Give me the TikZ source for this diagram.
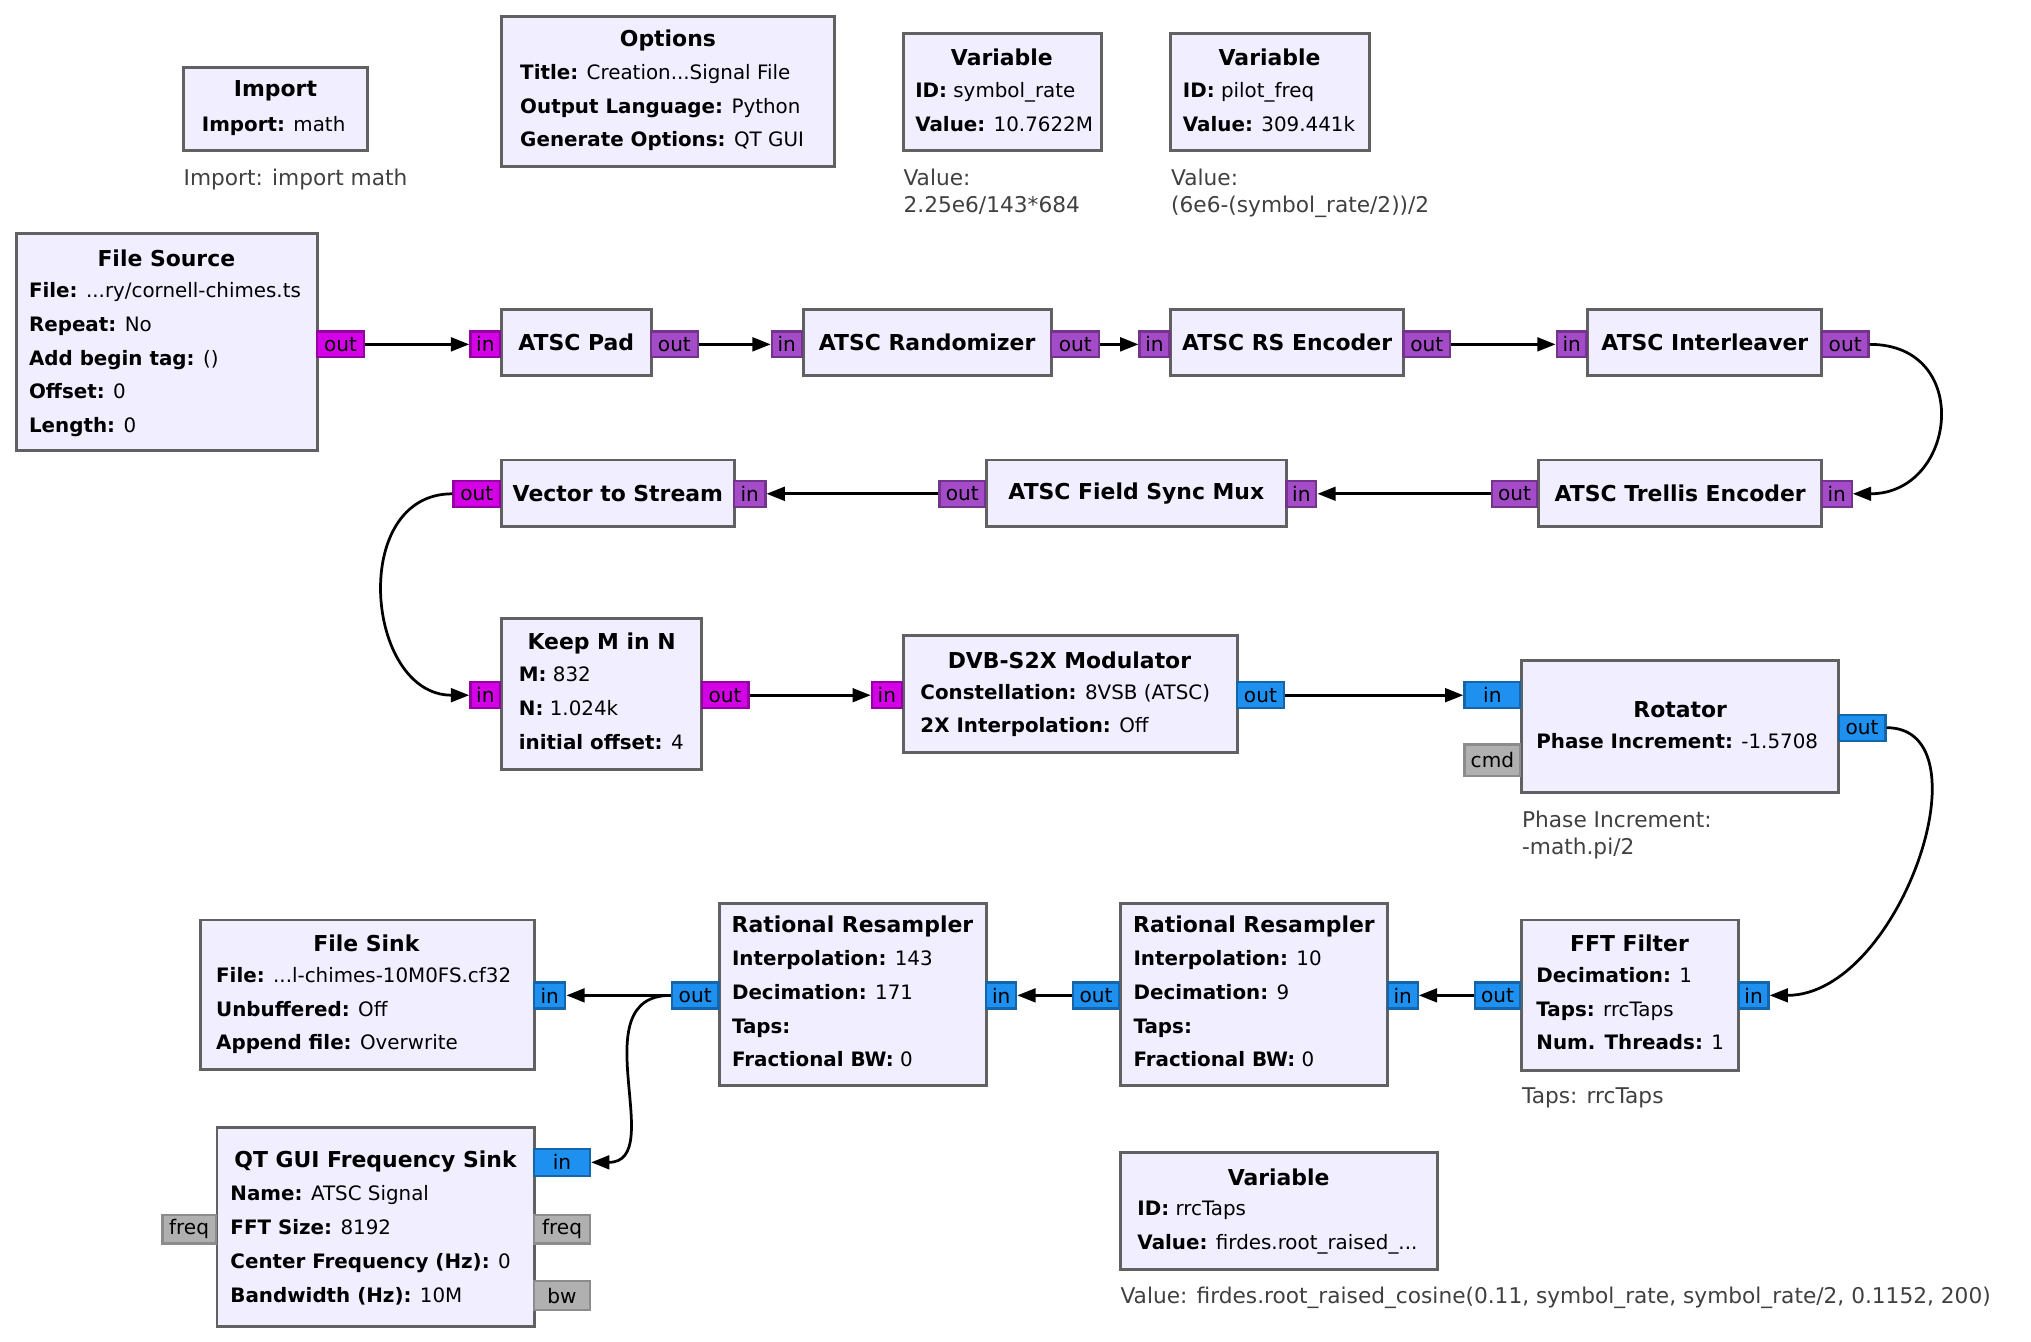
\documentclass[tikz,border=0pt]{standalone}
\usepackage{fontspec}
\setmainfont{DejaVu Sans}
\usetikzlibrary{fit,arrows.meta}

\definecolor{boxfill}{HTML}{F0EEFF}
\definecolor{bytec}{HTML}{D400E6}
\definecolor{purpc}{HTML}{A44CC8}
\definecolor{cplxc}{HTML}{1E90F0}
\definecolor{msgc}{HTML}{B0B0B0}

\tikzset{
    blk/.style={draw=black!62, fill=boxfill, line width=1.3pt, inner sep=0pt},
    ttl/.style={font=\fontsize{9.6}{11}\selectfont\bfseries, inner sep=0pt},
    prm/.style={align=left, inner sep=0pt, anchor=north west, font=\fontsize{8.7}{14.8}\selectfont},
    port/.style={line width=1pt, inner sep=0pt, font=\fontsize{8.8}{10}\selectfont},
    pbyte/.style={port, fill=bytec, draw=bytec!70!black},
    ppurp/.style={port, fill=purpc, draw=purpc!70!black},
    pcplx/.style={port, fill=cplxc, draw=cplxc!70!black},
    pmsg/.style={port, fill=msgc, draw=black!45},
    note/.style={align=left, inner sep=0pt, anchor=north west, text=black!75, font=\fontsize{9.5}{11.6}\selectfont},
    wire/.style={line width=1.2pt, -{Triangle[length=8pt,width=6pt]}}
}

% block: name, x1, y1, x2, y2
\newcommand\blk[5]{\node[blk, fit={(#2,#3) (#4,#5)}] (#1) {};}
% port: name, style, x1, y1, x2, y2, text
\newcommand\prt[7]{\node[#2, fit={(#3,#4) (#5,#6)}] (#1) {}; \node[port] at (#1.center) {#7};}

\begin{document}
\begin{tikzpicture}[x=0.02cm, y=-0.02cm]
\useasboundingbox (0,0) rectangle (1563,1032);

%% Top row: settings blocks
\blk{imp}{141}{52}{283}{116}
\node[ttl] at (212,70) {Import};
\node[prm] at (155,89) {\textbf{Import:} math};
\node[note] at (141,130) {Import: import math};

\blk{opt}{386}{13}{642}{128}
\node[ttl] at (514,31) {Options};
\node[prm] at (400,49) {\textbf{Title:} Creation...Signal File\\\textbf{Output Language:} Python\\\textbf{Generate Options:} QT GUI};

\blk{vsr}{695}{26}{848}{116}
\node[ttl] at (771,44) {Variable};
\node[prm] at (704,63) {\textbf{ID:} symbol\_rate\\\textbf{Value:} 10.7622M};
\node[note] at (695,130) {Value:\\2.25e6/143*684};

\blk{vpf}{901}{26}{1054}{116}
\node[ttl] at (977,44) {Variable};
\node[prm] at (910,63) {\textbf{ID:} pilot\_freq\\\textbf{Value:} 309.441k};
\node[note] at (901,130) {Value:\\(6e6-(symbol\_rate/2))/2};

%% Row 1
\blk{fsrc}{13}{180}{244}{347}
\node[ttl] at (128,199) {File Source};
\node[prm] at (22,217) {\textbf{File:} ...ry/cornell-chimes.ts\\\textbf{Repeat:} No\\\textbf{Add begin tag:} ()\\\textbf{Offset:} 0\\\textbf{Length:} 0};
\prt{fsrcout}{pbyte}{244}{255}{280}{275}{out}

\blk{pad}{386}{238}{501}{289}
\node[ttl] at (pad.center) {ATSC Pad};
\prt{padin}{pbyte}{362}{255}{385}{275}{in}
\prt{padout}{ppurp}{501}{255}{537}{275}{out}

\blk{rnd}{618}{238}{809}{289}
\node[ttl] at (rnd.center) {ATSC Randomizer};
\prt{rndin}{ppurp}{594}{255}{617}{275}{in}
\prt{rndout}{ppurp}{809}{255}{846}{275}{out}

\blk{rse}{901}{238}{1080}{289}
\node[ttl] at (rse.center) {ATSC RS Encoder};
\prt{rsein}{ppurp}{877}{255}{900}{275}{in}
\prt{rseout}{ppurp}{1080}{255}{1116}{275}{out}

\blk{ilv}{1222}{238}{1402}{289}
\node[ttl] at (ilv.center) {ATSC Interleaver};
\prt{ilvin}{ppurp}{1198}{255}{1221}{275}{in}
\prt{ilvout}{ppurp}{1402}{255}{1438}{275}{out}

%% Row 2
\blk{trl}{1184}{354}{1402}{405}
\node[ttl] at (trl.center) {ATSC Trellis Encoder};
\prt{trlin}{ppurp}{1402}{370}{1425}{390}{in}
\prt{trlout}{ppurp}{1148}{370}{1183}{390}{out}

\blk{fsm}{759}{354}{990}{405}
\node[ttl] at (fsm.center) {ATSC Field Sync Mux};
\prt{fsmin}{ppurp}{990}{370}{1013}{390}{in}
\prt{fsmout}{ppurp}{723}{370}{758}{390}{out}

\blk{vts}{386}{354}{565}{405}
\node[ttl] at (vts.center) {Vector to Stream};
\prt{vtsin}{ppurp}{565}{370}{589}{390}{in}
\prt{vtsout}{pbyte}{349}{370}{385}{390}{out}

%% Row 3
\blk{kmn}{386}{476}{540}{592}
\node[ttl] at (463,495) {Keep M in N};
\node[prm] at (399,513) {\textbf{M:} 832\\\textbf{N:} 1.024k\\\textbf{initial offset:} 4};
\prt{kmnin}{pbyte}{362}{525}{385}{545}{in}
\prt{kmnout}{pbyte}{540}{525}{576}{545}{out}

\blk{dvb}{695}{489}{952}{579}
\node[ttl] at (823,508) {DVB-S2X Modulator};
\node[prm] at (708,526) {\textbf{Constellation:} 8VSB (ATSC)\\\textbf{2X Interpolation:} Off};
\prt{dvbin}{pbyte}{671}{525}{694}{545}{in}
\prt{dvbout}{pcplx}{952}{525}{988}{545}{out}

\blk{rot}{1171}{508}{1415}{610}
\node[ttl] at (1293,546) {Rotator};
\node[prm] at (1182,564) {\textbf{Phase Increment:} -1.5708};
\prt{rotin}{pcplx}{1127}{525}{1170}{545}{in}
\prt{rotcmd}{pmsg}{1127}{573}{1170}{597}{cmd}
\prt{rotout}{pcplx}{1415}{550}{1451}{570}{out}
\node[note] at (1171,624) {Phase Increment:\\-math.pi/2};

%% Row 4
\blk{fft}{1171}{708}{1338}{824}
\node[ttl] at (1254,726) {FFT Filter};
\node[prm] at (1182,744) {\textbf{Decimation:} 1\\\textbf{Taps:} rrcTaps\\\textbf{Num. Threads:} 1};
\prt{fftin}{pcplx}{1338}{756}{1361}{776}{in}
\prt{fftout}{pcplx}{1135}{756}{1170}{776}{out}
\node[note] at (1171,837) {Taps: rrcTaps};

\blk{rsb}{862}{695}{1068}{835}
\node[ttl] at (965,713) {Rational Resampler};
\node[prm] at (872,731) {\textbf{Interpolation:} 10\\\textbf{Decimation:} 9\\\textbf{Taps:}\\\textbf{Fractional BW:} 0};
\prt{rsbin}{pcplx}{1068}{756}{1091}{776}{in}
\prt{rsbout}{pcplx}{826}{756}{861}{776}{out}

\blk{rsa}{554}{695}{759}{835}
\node[ttl] at (656,713) {Rational Resampler};
\node[prm] at (563,731) {\textbf{Interpolation:} 143\\\textbf{Decimation:} 171\\\textbf{Taps:}\\\textbf{Fractional BW:} 0};
\prt{rsain}{pcplx}{759}{756}{782}{776}{in}
\prt{rsaout}{pcplx}{517}{756}{553}{776}{out}

\blk{fsnk}{154}{708}{411}{823}
\node[ttl] at (282,726) {File Sink};
\node[prm] at (166,744) {\textbf{File:} ...l-chimes-10M0FS.cf32\\\textbf{Unbuffered:} Off\\\textbf{Append file:} Overwrite};
\prt{fsnkin}{pcplx}{411}{756}{435}{776}{in}

%% Bottom
\blk{qtf}{167}{868}{411}{1021}
\node[ttl] at (289,894) {QT GUI Frequency Sink};
\node[prm] at (177,912) {\textbf{Name:} ATSC Signal\\\textbf{FFT Size:} 8192\\\textbf{Center Frequency (Hz):} 0\\\textbf{Bandwidth (Hz):} 10M};
\prt{qtfin}{pcplx}{411}{884}{454}{905}{in}
\prt{qtffl}{pmsg}{125}{935}{166}{957}{freq}
\prt{qtffr}{pmsg}{411}{935}{454}{957}{freq}
\prt{qtfbw}{pmsg}{411}{986}{454}{1008}{bw}

\blk{vrt}{862}{887}{1106}{977}
\node[ttl] at (984,906) {Variable};
\node[prm] at (875,924) {\textbf{ID:} rrcTaps\\\textbf{Value:} firdes.root\_raised\_...};
\node[note] at (862,990) {Value: firdes.root\_raised\_cosine(0.11, symbol\_rate, symbol\_rate/2, 0.1152, 200)};

%% Connections
\draw[wire] (fsrcout.east) -- (padin.west);
\draw[wire] (padout.east) -- (rndin.west);
\draw[wire] (rndout.east) -- (rsein.west);
\draw[wire] (rseout.east) -- (ilvin.west);
\draw[wire] (ilvout.east) .. controls +(80,0) and +(80,0) .. (trlin.east);
\draw[wire] (trlout.west) -- (fsmin.east);
\draw[wire] (fsmout.west) -- (vtsin.east);
\draw[wire] (vtsout.west) .. controls +(-80,0) and +(-80,0) .. (kmnin.west);
\draw[wire] (kmnout.east) -- (dvbin.west);
\draw[wire] (dvbout.east) -- (rotin.west);
\draw[wire] (rotout.east) .. controls +(80,0) and +(100,0) .. (fftin.east);
\draw[wire] (fftout.west) -- (rsbin.east);
\draw[wire] (rsbout.west) -- (rsain.east);
\draw[wire] (rsaout.west) -- (fsnkin.east);
\draw[wire] (rsaout.west) .. controls +(-70,0) and +(60,0) .. (qtfin.east);

\end{tikzpicture}
\end{document}
